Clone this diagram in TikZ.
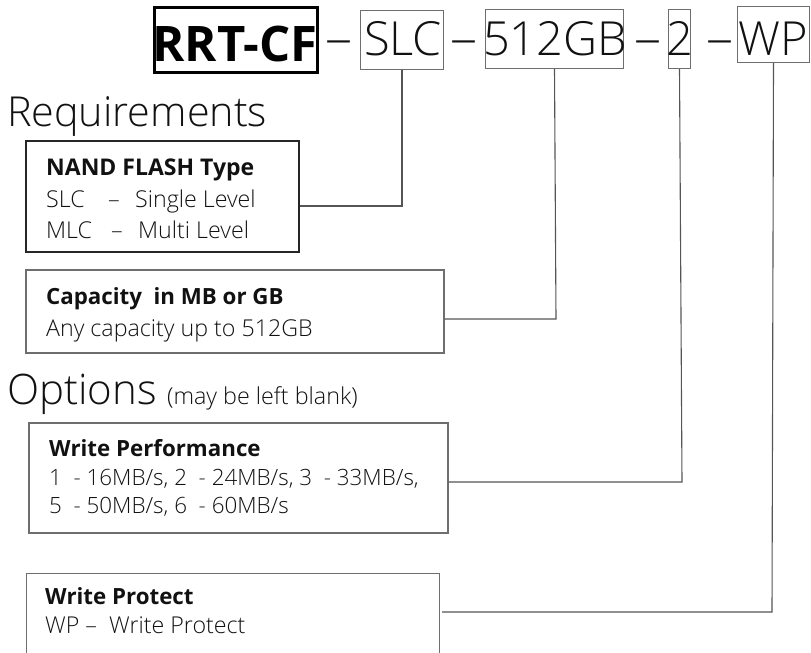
\documentclass[tikz,border=0pt]{standalone}
\usepackage{fontspec}
\setmainfont{Open Sans}[UprightFont={* Light}, BoldFont={* Bold}]
\definecolor{boxgray}{HTML}{6E6E6E}
\definecolor{linegray}{HTML}{555555}
\definecolor{txt}{HTML}{111111}
\begin{document}
\begin{tikzpicture}[x=1pt,y=-1pt,
  box/.style={draw=boxgray, line width=1.1pt, inner sep=0pt, rectangle},
  lbl/.style={anchor=base west, inner sep=0pt, text=txt},
  big/.style={anchor=base, inner sep=0pt, text=txt, font=\fontsize{47}{47}\selectfont},
  dsh/.style={anchor=base, inner sep=0pt, text=txt, font=\fontsize{54}{54}\selectfont},
  body/.style={lbl, font=\fontsize{23.2}{23.2}\selectfont},
  head/.style={lbl, font=\fontsize{22.3}{22.3}\selectfont\bfseries},
  title/.style={lbl, font=\fontsize{41.3}{41.3}\selectfont},
  conn/.style={draw=linegray, line width=1.1pt},
]
\clip (0,0) rectangle (811,653);
\useasboundingbox (0,0) rectangle (811,653);

% ---- part number row ----
\node[box, draw=black, line width=3pt, minimum width=163pt, minimum height=65pt] (pn) at (236,40) {};
\node[anchor=base, inner sep=0pt, font=\fontsize{49}{49}\selectfont\bfseries] (pnt) at (235,61) {RRT-CF};
\node[box, minimum width=83pt, minimum height=59pt] (slc) at (402,40) {};
\node[big] (slct) at (403,55) {SLC};
\node[box, minimum width=138pt, minimum height=59pt] (cap) at (554.5,39) {};
\node[big] (capt) at (555,55) {512GB};
\node[box, minimum width=22pt, minimum height=59pt] (wpf) at (679.5,39) {};
\node[big] (wpft) at (680,55) {2};
\node[box, minimum width=72pt, minimum height=56pt] (wpr) at (773.5,34.5) {};
\node[big] (wprt) at (773.5,55) {WP};
\node[dsh] (d1) at (339,56.5) {–};
\node[dsh] (d2) at (464,56.5) {–};
\node[dsh] (d3) at (648,56.5) {–};
\node[dsh] (d4) at (720,56.5) {–};

% ---- Requirements ----
\node[title] (req) at (7,126) {Requirements};
\node[box, draw=black!85, minimum width=273pt, minimum height=111pt] (nand) at (162.5,196.5) {};
\node[head, font=\fontsize{23}{23}\selectfont\bfseries] (nandh) at (46,175) {NAND FLASH Type};
\node[body] (s1) at (46,207) {SLC};
\node[body] (s2) at (108,207) {–};
\node[body] (s3) at (135,207) {Single Level};
\node[body] (m1) at (46,238) {MLC};
\node[body] (m2) at (111,238) {–};
\node[body] (m3) at (138,238) {Multi Level};

\node[box, minimum width=418pt, minimum height=83pt] (capb) at (235,311.5) {};
\node[head] (caph) at (46,304) {Capacity\ \ in MB or GB};
\node[body] (capl) at (46,336) {Any capacity up to 512GB};

% ---- Options ----
\node[title, font=\fontsize{42}{42}\selectfont] (opt) at (7,404) {Options};
\node[lbl, font=\fontsize{23.3}{23.3}\selectfont] (optn) at (167,404) {(may be left blank)};

\node[box, minimum width=419pt, minimum height=110pt] (perf) at (238.5,478) {};
\node[head] (perfh) at (49,456) {Write Performance};
\node[body, font=\fontsize{22.4}{22.4}\selectfont] (perf1) at (49,485) {1\ \ - 16MB/s, 2\ \ - 24MB/s, 3\ \ - 33MB/s,};
\node[body, font=\fontsize{22.4}{22.4}\selectfont] (perf2) at (49,513) {5\ \ - 50MB/s, 6\ \ - 60MB/s};

\node[box, minimum width=413pt, minimum height=140pt, anchor=north west] (prot) at (25.5,572.5) {};
\node[head] (proth) at (45,604) {Write Protect};
\node[body] (prot1) at (45,633) {WP –\ \ Write Protect};

% ---- connectors ----
\coordinate (k1) at (402,206);
\coordinate (k2) at (556,319);
\coordinate (k3) at (682,482);
\coordinate (k4) at (772,612);
\coordinate (k4e) at (442,612);
\draw[conn] (slc.south) -- (k1) -- (k1 -| nand.east);
\draw[conn] (cap.south) -- (k2) -- (k2 -| capb.east);
\draw[conn] (wpf.south) -- (k3) -- (k3 -| perf.east);
\draw[conn] (wpr.south) -- (k4) -- (k4e);
\end{tikzpicture}
\end{document}
